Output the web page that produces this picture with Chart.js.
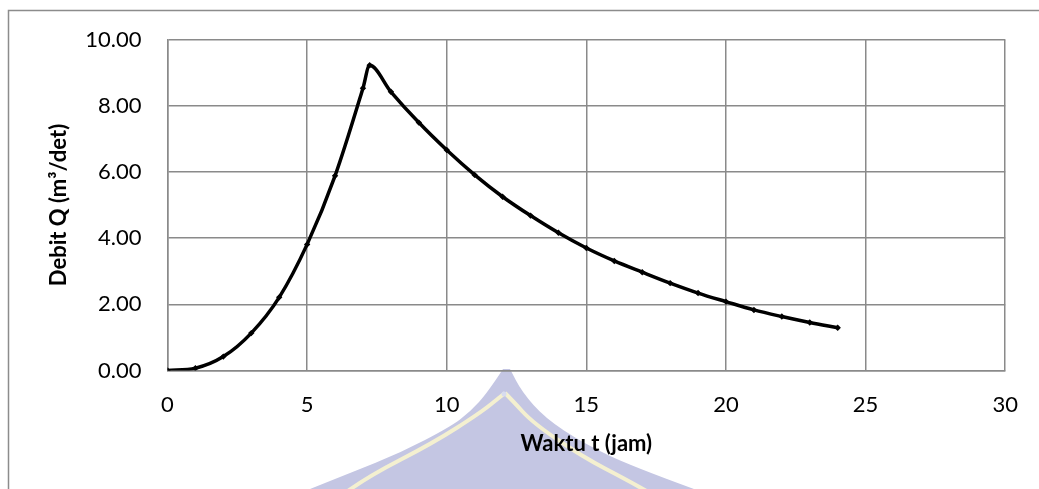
<!DOCTYPE html>
<html>
<head>
<meta charset="utf-8">
<script src="https://cdn.jsdelivr.net/npm/chart.js@4.4.1/dist/chart.umd.min.js"></script>
<style>
  html, body { margin: 0; padding: 0; background: #fff; }
  #wrap { width: 1039px; height: 489px; }
</style>
</head>
<body>
<div id="wrap"><canvas id="hidro" width="1039" height="489"></canvas></div>
<script>
// hidrograf satuan - waktu (jam) vs debit (m3/det)
var waktu = [0, 1, 2, 3, 4, 5, 6, 7, 7.24, 8, 9, 10, 11, 12, 13, 14, 15, 16, 17, 18, 19, 20, 21, 22, 23, 24];
var debit = [0, 0.07, 0.42, 1.13, 2.21, 3.81, 5.88, 8.53, 9.22, 8.42, 7.49, 6.66, 5.91, 5.25, 4.68, 4.16, 3.70, 3.31, 2.97, 2.64, 2.34, 2.08, 1.83, 1.63, 1.45, 1.29];
var xTicks = { min: 0, max: 30, step: 5 };
var yTicks = { min: 0, max: 10, step: 2 };

var gridColor = '#8a8a8a';
var fontFam = 'Lato, "Open Sans", sans-serif';

var points = waktu.map(function (t, i) { return { x: t, y: debit[i] }; });

// smooth path through a list of [x,y]
function smoothPath(c, pts, start) {
  if (start) c.moveTo(pts[0][0], pts[0][1]);
  else c.lineTo(pts[0][0], pts[0][1]);
  for (var i = 1; i < pts.length - 1; i++) {
    var mx = (pts[i][0] + pts[i + 1][0]) / 2, my = (pts[i][1] + pts[i + 1][1]) / 2;
    c.quadraticCurveTo(pts[i][0], pts[i][1], mx, my);
  }
  var last = pts[pts.length - 1];
  c.lineTo(last[0], last[1]);
}

// frame + faint watermark behind the chart
var background = {
  id: 'background',
  beforeDraw: function (chart) {
    var c = chart.ctx;
    c.save();
    c.fillStyle = '#fff';
    c.fillRect(0, 0, chart.width, chart.height);

    // watermark (logo roof)
    c.fillStyle = '#c4c6e3';
    c.beginPath();
    smoothPath(c, [[503, 369], [488, 392], [470, 412], [450, 427], [400, 453], [350, 473], [300, 493]], true);
    smoothPath(c, [[705, 493], [633, 467], [583, 443], [545, 418], [522, 392], [510, 369]], false);
    c.closePath();
    c.fill();

    c.strokeStyle = '#f4f0d0';
    c.lineWidth = 4;
    c.beginPath();
    smoothPath(c, [[345, 493], [367, 477], [433, 443], [480, 413], [500, 397], [505, 393]], true);
    c.stroke();
    c.beginPath();
    smoothPath(c, [[505, 393], [512, 400], [533, 423], [583, 457], [627, 480], [650, 493]], true);
    c.stroke();
    c.fillStyle = '#d8dcef';
    c.beginPath();
    c.arc(504, 394, 2.5, 0, Math.PI * 2);
    c.fill();

    // outer chart frame
    c.strokeStyle = '#8c8c8c';
    c.lineWidth = 1.5;
    c.beginPath();
    c.moveTo(8.5, chart.height);
    c.lineTo(8.5, 10.5);
    c.lineTo(chart.width, 10.5);
    c.stroke();
    c.restore();
  }
};

new Chart(document.getElementById('hidro'), {
  type: 'scatter',
  data: {
    datasets: [{
      label: 'Debit',
      data: points,
      showLine: true,
      borderColor: '#000',
      backgroundColor: '#000',
      borderWidth: 3.5,
      cubicInterpolationMode: 'monotone',
      pointStyle: 'rectRot',
      pointRadius: 3.2,
      pointBorderWidth: 0
    }]
  },
  options: {
    responsive: false,
    animation: false,
    layout: { padding: { left: 0, right: 33, top: 39.5, bottom: 0 } },
    plugins: { legend: { display: false }, tooltip: { enabled: false } },
    scales: {
      x: {
        type: 'linear',
        min: xTicks.min, max: xTicks.max,
        afterFit: function (s) { s.height = 118.5; },
        ticks: {
          stepSize: xTicks.step, padding: 21, color: '#000',
          font: { family: fontFam, size: 22 }
        },
        grid: { color: gridColor, lineWidth: 1.5, drawTicks: false },
        border: { color: gridColor, width: 1.5 },
        title: {
          display: true, text: 'Waktu t (jam)', color: '#000',
          font: { family: fontFam, size: 22, weight: 'bold' },
          padding: { top: 0, bottom: 32 }
        }
      },
      y: {
        min: yTicks.min, max: yTicks.max,
        afterFit: function (s) { s.width = 167.5; },
        ticks: {
          stepSize: yTicks.step, padding: 26, color: '#000',
          font: { family: fontFam, size: 22 },
          callback: function (v) { return v.toFixed(2); }
        },
        grid: { color: gridColor, lineWidth: 1.5, drawTicks: false },
        border: { color: gridColor, width: 1.5 },
        title: {
          display: true, text: 'Debit Q (m³/det)', color: '#000',
          font: { family: fontFam, size: 22, weight: 'bold' },
          padding: { top: 46, bottom: 0 }
        }
      }
    }
  },
  plugins: [background]
});
</script>
</body>
</html>
